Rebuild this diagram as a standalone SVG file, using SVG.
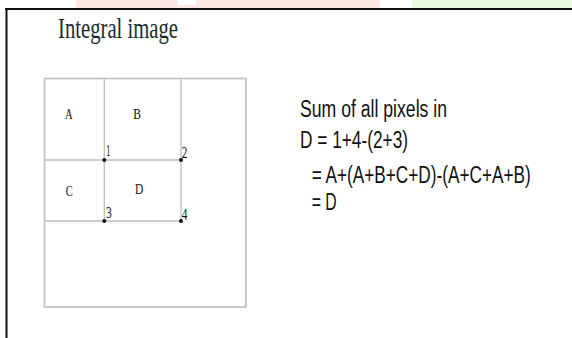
<svg xmlns="http://www.w3.org/2000/svg" width="572" height="338" viewBox="0 0 572 338">
<style>
.grid{stroke:#bdbdbd;stroke-width:1.3;fill:none}
.outer{stroke:#c6c6c6;stroke-width:1.8;fill:none}
.lbl{font-family:"Liberation Serif","Times New Roman",serif;font-size:15.5px;fill:#111}
.num{font-family:"Liberation Serif","Times New Roman",serif;font-size:16px;fill:#111}
.eq{font-family:"Liberation Sans",Arial,sans-serif;font-size:23px;fill:#111}
.title{font-family:"Liberation Serif","Times New Roman",serif;font-size:29px;fill:#1d2a2a}
</style>
<rect width="572" height="338" fill="#ffffff"/>
<g id="top-bands">
<rect x="76" y="0" width="304" height="8" fill="#fde6e6"/>
<rect x="178" y="0" width="18" height="5" fill="#ffffff"/>
<rect x="412" y="0" width="160" height="8" fill="#edf8e3"/>
</g>
<g id="frame">
<line x1="5" y1="9" x2="572" y2="9" stroke="#111" stroke-width="2"/>
<line x1="6.5" y1="9" x2="6.5" y2="338" stroke="#111" stroke-width="2"/>
</g>
<g id="title">
<text class="title" x="58" y="37.5" textLength="120" lengthAdjust="spacingAndGlyphs">Integral image</text>
</g>
<g id="grid-box">
<rect class="outer" x="44.5" y="78.5" width="201.5" height="228.5"/>
</g>
<g id="connectors">
<line class="grid" x1="104.3" y1="78.5" x2="104.3" y2="221"/>
<line class="grid" x1="181" y1="78.5" x2="181" y2="221"/>
<line class="grid" x1="44.5" y1="160" x2="181" y2="160"/>
<line class="grid" x1="44.5" y1="221" x2="181" y2="221"/>
</g>
<g id="region-A"><text class="lbl" x="65" y="118.5" textLength="7.7" lengthAdjust="spacingAndGlyphs">A</text></g>
<g id="region-B"><text class="lbl" x="133.3" y="118.5" textLength="7.7" lengthAdjust="spacingAndGlyphs">B</text></g>
<g id="region-C"><text class="lbl" x="65.7" y="196.2" textLength="7" lengthAdjust="spacingAndGlyphs">C</text></g>
<g id="region-D"><text class="lbl" x="135" y="193.5" textLength="8.3" lengthAdjust="spacingAndGlyphs">D</text></g>
<g id="point-1">
<circle cx="104.3" cy="160" r="2" fill="#111"/>
<text class="num" x="106.3" y="155.8" textLength="4" lengthAdjust="spacingAndGlyphs">1</text>
</g>
<g id="point-2">
<circle cx="181" cy="160" r="2" fill="#111"/>
<text class="num" x="181.7" y="158.4" textLength="5.6" lengthAdjust="spacingAndGlyphs">2</text>
</g>
<g id="point-3">
<circle cx="104.3" cy="221" r="2" fill="#111"/>
<text class="num" x="106" y="218.4" textLength="5.7" lengthAdjust="spacingAndGlyphs">3</text>
</g>
<g id="point-4">
<circle cx="181" cy="221" r="2" fill="#111"/>
<text class="num" x="181.7" y="220" textLength="5.6" lengthAdjust="spacingAndGlyphs">4</text>
</g>
<g id="formula">
<text class="eq" x="300" y="116.5" textLength="147" lengthAdjust="spacingAndGlyphs">Sum of all pixels in</text>
<text class="eq" x="300" y="148" textLength="108" lengthAdjust="spacingAndGlyphs">D = 1+4-(2+3)</text>
<text class="eq" x="311.7" y="182.5" textLength="219" lengthAdjust="spacingAndGlyphs">= A+(A+B+C+D)-(A+C+A+B)</text>
<text class="eq" x="311.7" y="210" textLength="25" lengthAdjust="spacingAndGlyphs">= D</text>
</g>
</svg>
